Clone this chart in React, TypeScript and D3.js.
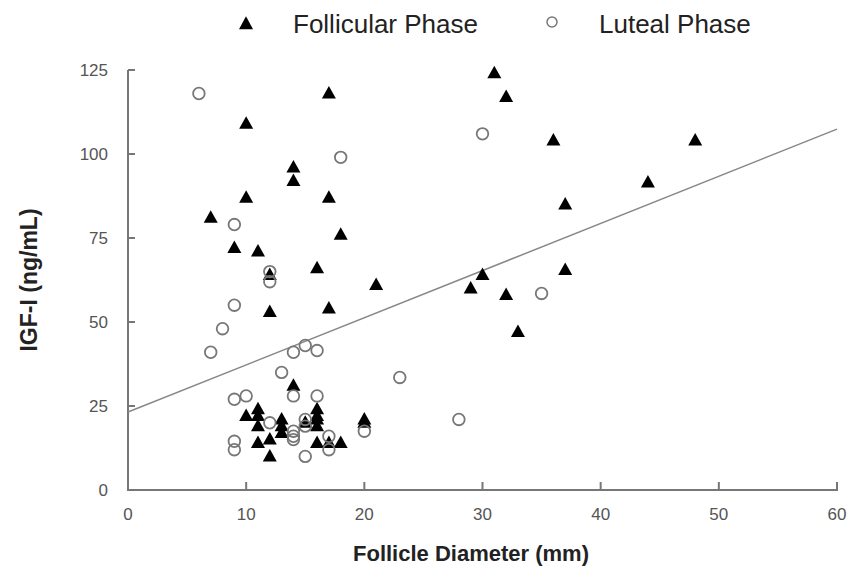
import React from "react";
import * as d3 from "d3";

const follicularX = [17, 10, 14, 14, 10, 17, 7, 18, 9, 11, 16, 12, 21, 12, 17, 14, 10, 11, 11, 11, 13, 13, 15, 16, 16, 16, 16, 12, 11, 12, 16, 17, 18, 20, 20, 31, 32, 36, 37, 30, 29, 32, 37, 33, 48, 44, 13];
const follicularY = [118, 109, 96, 92, 87, 87, 81, 76, 72, 71, 66, 64, 61, 53, 54, 31, 22, 24, 22, 19, 21, 19, 20, 24, 22, 21, 19, 10, 14, 15, 14, 14, 14, 21, 20, 124, 117, 104, 85, 64, 60, 58, 65.5, 47, 104, 91.5, 17];
const lutealX = [6, 18, 30, 9, 12, 12, 9, 8, 7, 14, 15, 16, 13, 14, 9, 10, 16, 12, 15, 15, 14, 14, 14, 9, 9, 15, 17, 17, 20, 35, 23, 28];
const lutealY = [118, 99, 106, 79, 65, 62, 55, 48, 41, 41, 43, 41.5, 35, 28, 27, 28, 28, 20, 21, 19, 17.5, 16, 15, 14.5, 12, 10, 16, 12, 17.5, 58.5, 33.5, 21];
const fitX = [0, 60];
const fitY = [23.2, 107.4];
const xTicks = [0, 10, 20, 30, 40, 50, 60];
const yTicks = [0, 25, 50, 75, 100, 125];
const seriesNames = ["Follicular Phase", "Luteal Phase"];

const FONT = "'Liberation Sans', Arial, Helvetica, sans-serif";

function tri(cx: number, cy: number, w: number, h: number) {
  const p = d3.path();
  p.moveTo(cx, cy - h * 0.6);
  p.lineTo(cx - w / 2, cy + h * 0.4);
  p.lineTo(cx + w / 2, cy + h * 0.4);
  p.closePath();
  return p.toString();
}

export default function App() {
  const x = d3.scaleLinear().domain([0, 60]).range([128, 837]);
  const y = d3.scaleLinear().domain([0, 125]).range([490, 70]);
  const axisColor = "#777";
  const line = d3
    .line<number>()
    .x((d) => x(fitX[d]))
    .y((d) => y(fitY[d]));

  return (
    <svg
      width={847}
      height={568}
      style={{ position: "absolute", left: 0, top: 0, background: "#fff" }}
      fontFamily={FONT}
    >
      <rect width={847} height={568} fill="#fff" />
      {/* legend */}
      <path d={tri(246, 24, 14, 13)} fill="#000" />
      <text x={293} y={33} fontSize={26} fill="#222">{seriesNames[0]}</text>
      <circle cx={552} cy={22} r={5} fill="none" stroke="#777" strokeWidth={1.5} />
      <text x={599} y={33} fontSize={26} fill="#222">{seriesNames[1]}</text>

      {/* axes */}
      <line x1={x(0)} x2={x(0)} y1={y(125)} y2={y(0)} stroke={axisColor} strokeWidth={2} />
      <line x1={x(0) - 1} x2={x(60) + 1} y1={y(0)} y2={y(0)} stroke={axisColor} strokeWidth={2} />
      {yTicks.map((t) => (
        <g key={"y" + t}>
          <line x1={x(0)} x2={x(0) + 7} y1={y(t)} y2={y(t)} stroke={axisColor} strokeWidth={2} />
          <text x={108} y={y(t) + 6} fontSize={17} textAnchor="end" fill="#555">{t}</text>
        </g>
      ))}
      {xTicks.map((t) => (
        <g key={"x" + t}>
          <line x1={x(t)} x2={x(t)} y1={y(0)} y2={y(0) - 8} stroke={axisColor} strokeWidth={2} />
          <text x={x(t)} y={520} fontSize={17} textAnchor="middle" fill="#555">{t}</text>
        </g>
      ))}
      <text x={471} y={561} fontSize={22} fontWeight="bold" textAnchor="middle" fill="#222">
        Follicle Diameter (mm)
      </text>
      <text
        transform={`translate(37,280) rotate(-90)`}
        fontSize={23}
        fontWeight="bold"
        textAnchor="middle"
        fill="#222"
      >
        IGF-I (ng/mL)
      </text>

      {/* regression line */}
      <path d={line([0, 1]) || ""} fill="none" stroke="#888" strokeWidth={1.5} />

      {/* follicular triangles */}
      {follicularX.map((v, i) => (
        <path key={"f" + i} d={tri(x(v), y(follicularY[i]), 14, 12.5)} fill="#000" />
      ))}
      {/* luteal circles */}
      {lutealX.map((v, i) => (
        <circle key={"l" + i} cx={x(v)} cy={y(lutealY[i])} r={5.8} fill="none" stroke="#777" strokeWidth={1.8} />
      ))}
    </svg>
  );
}
